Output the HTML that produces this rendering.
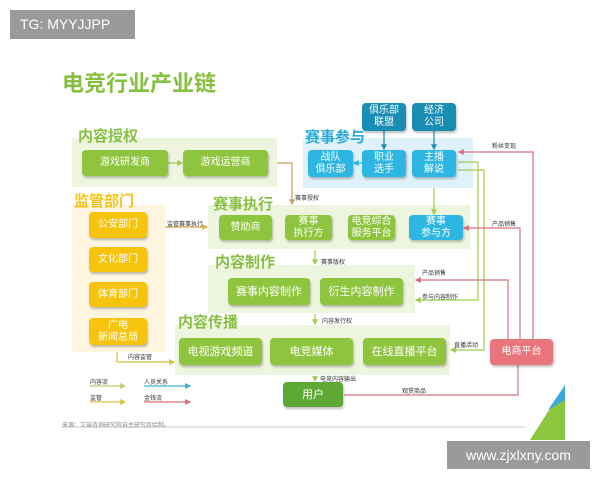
<!DOCTYPE html>
<html><head><meta charset="utf-8"><style>
body{margin:0;width:600px;height:480px;background:#fff;position:relative;overflow:hidden;font-family:"Liberation Sans","Noto Sans CJK SC",sans-serif}
.a{position:absolute;box-sizing:border-box}
.p{position:absolute}
.b{position:absolute;display:flex;align-items:center;justify-content:center;text-align:center;color:#fff;border-radius:4px;box-shadow:1px 2px 2px rgba(0,0,0,.25);font-size:10px;line-height:12px}
.g{background:#8fc53e}.y{background:#f6c40c}.bl{background:#2db6e2}.db{background:#1a8db4}
.l{position:absolute;font-weight:bold;font-size:15px}
.s{position:absolute;font-size:6px;color:#333;white-space:nowrap}
</style></head><body>
<div class="a" style="left:10px;top:10px;width:125px;height:29px;background:#9a9a9a;color:#fff;font-size:14px;padding:6px 0 0 10px">TG: MYYJJPP</div>
<div class="p" style="left:62px;top:66px;font-size:22px;color:#86c040;font-weight:bold">电竞行业产业链</div>

<div class="a" style="left:72px;top:138px;width:205px;height:49px;background:#eef5de"></div>
<div class="a" style="left:303px;top:138px;width:170px;height:50px;background:#dff1fa"></div>
<div class="a" style="left:72px;top:205px;width:93px;height:147px;background:#fdf5df"></div>
<div class="a" style="left:208px;top:205px;width:262px;height:44px;background:#eef5de"></div>
<div class="a" style="left:208px;top:265px;width:207px;height:48px;background:#eef5de"></div>
<div class="a" style="left:175px;top:325px;width:275px;height:50px;background:#eef5de"></div>

<div class="l" style="left:78px;top:125px;color:#86c040">内容授权</div>
<div class="l" style="left:305px;top:126px;color:#2aa8d8">赛事参与</div>
<div class="l" style="left:74px;top:190px;color:#f5c316">监管部门</div>
<div class="l" style="left:213px;top:193px;color:#86c040">赛事执行</div>
<div class="l" style="left:215px;top:251px;color:#86c040">内容制作</div>
<div class="l" style="left:178px;top:311px;color:#86c040">内容传播</div>

<svg class="p" style="left:0;top:0" width="600" height="480">
<defs><marker id="m" markerWidth="5" markerHeight="5" refX="4" refY="2.5" orient="auto"><path d="M0,0L5,2.5L0,5z" fill="context-stroke"/></marker></defs>
<g fill="none" stroke-width="1.2" marker-end="url(#m)">
<path d="M168,163H182" stroke="#9fcc50"/>
<path d="M277,163H292V204" stroke="#c9a060"/>
<path d="M384,131V149" stroke="#1a8db4"/><path d="M434,131V149" stroke="#1a8db4"/>
<path d="M362,163H354" stroke="#2db6e2"/>
<path d="M434,188V214" stroke="#9fcc50"/>
<path d="M165,227H207" stroke="#d8b050"/>
<path d="M315,250V264" stroke="#9fcc50"/>
<path d="M315,314V324" stroke="#9fcc50"/>
<path d="M315,376V381" stroke="#9fcc50"/>
<path d="M117,352V362H174" stroke="#d8c040"/>
<path d="M458,162H478V300H416" stroke="#9fcc50"/>
<path d="M458,170H484V350H451" stroke="#9fcc50"/>
<path d="M533,339V152H459" stroke="#d87080"/>
<path d="M520,339V228H464" stroke="#d87080"/>
<path d="M508,339V280H416" stroke="#d87080"/>
<path d="M518,365V395H344" stroke="#d87080" marker-end="none"/>
<path d="M90,386H125" stroke="#b8d070"/><path d="M144,386H190" stroke="#40b0d8"/>
<path d="M90,402H125" stroke="#e0c040"/><path d="M144,402H190" stroke="#d87080"/>
</g>
<line x1="62" y1="427" x2="525" y2="427" stroke="#ccc"/>
<path d="M565,385L565,440L530,440Z" fill="#8cc63e"/><path d="M565,385L548,410L565,400Z" fill="#3aa8d8"/>
</svg>

<div class="b g" style="left:82px;top:150px;width:86px;height:26px">游戏研发商</div>
<div class="b g" style="left:183px;top:150px;width:85px;height:26px">游戏运营商</div>
<div class="b db" style="left:362px;top:103px;width:44px;height:28px">俱乐部<br>联盟</div>
<div class="b db" style="left:412px;top:103px;width:44px;height:28px">经济<br>公司</div>
<div class="b bl" style="left:308px;top:150px;width:45px;height:27px">战队<br>俱乐部</div>
<div class="b bl" style="left:362px;top:150px;width:44px;height:27px">职业<br>选手</div>
<div class="b bl" style="left:412px;top:150px;width:44px;height:27px">主播<br>解说</div>
<div class="b y" style="left:89px;top:212px;width:58px;height:26px">公安部门</div>
<div class="b y" style="left:89px;top:247px;width:58px;height:25px">文化部门</div>
<div class="b y" style="left:89px;top:282px;width:58px;height:25px">体育部门</div>
<div class="b y" style="left:89px;top:318px;width:58px;height:27px">广电<br>新闻总局</div>
<div class="b g" style="left:219px;top:215px;width:53px;height:25px">赞助商</div>
<div class="b g" style="left:285px;top:215px;width:47px;height:25px">赛事<br>执行方</div>
<div class="b g" style="left:348px;top:215px;width:47px;height:25px">电竞综合<br>服务平台</div>
<div class="b bl" style="left:409px;top:215px;width:54px;height:25px">赛事<br>参与方</div>
<div class="b g" style="left:228px;top:278px;width:82px;height:27px;font-size:11px">赛事内容制作</div>
<div class="b g" style="left:320px;top:278px;width:83px;height:27px;font-size:11px">衍生内容制作</div>
<div class="b g" style="left:179px;top:338px;width:83px;height:27px;font-size:11px">电视游戏频道</div>
<div class="b g" style="left:270px;top:338px;width:83px;height:27px;font-size:11px">电竞媒体</div>
<div class="b g" style="left:363px;top:338px;width:83px;height:27px;font-size:11px">在线直播平台</div>
<div class="b" style="left:283px;top:382px;width:60px;height:25px;background:#5ea836;font-size:11px">用户</div>
<div class="b" style="left:490px;top:339px;width:63px;height:26px;background:#e8747c">电商平台</div>

<div class="s" style="left:295px;top:193px">赛事授权</div>
<div class="s" style="left:167px;top:219px">监管赛事执行</div>
<div class="s" style="left:321px;top:257px">赛事版权</div>
<div class="s" style="left:322px;top:316px">内容发行权</div>
<div class="s" style="left:320px;top:374px">电竞内容输出</div>
<div class="s" style="left:128px;top:352px">内容监管</div>
<div class="s" style="left:422px;top:268px">产品销售</div>
<div class="s" style="left:422px;top:292px">参与内容制作</div>
<div class="s" style="left:454px;top:340px">直播活动</div>
<div class="s" style="left:402px;top:386px">观赏商品</div>
<div class="s" style="left:492px;top:141px">粉丝变现</div>
<div class="s" style="left:492px;top:219px">产品销售</div>
<div class="s" style="left:90px;top:377px">内容流</div><div class="s" style="left:144px;top:377px">人员关系</div>
<div class="s" style="left:90px;top:393px">监管</div><div class="s" style="left:144px;top:393px">金钱流</div>
<div class="s" style="left:62px;top:420px;color:#888">来源：艾瑞咨询研究院自主研究及绘制。</div>
<div class="a" style="left:447px;top:441px;width:143px;height:28px;background:#9a9a9a;color:#fff;font-size:14px;display:flex;align-items:center;justify-content:center">www.zjxlxny.com</div>
</body></html>
